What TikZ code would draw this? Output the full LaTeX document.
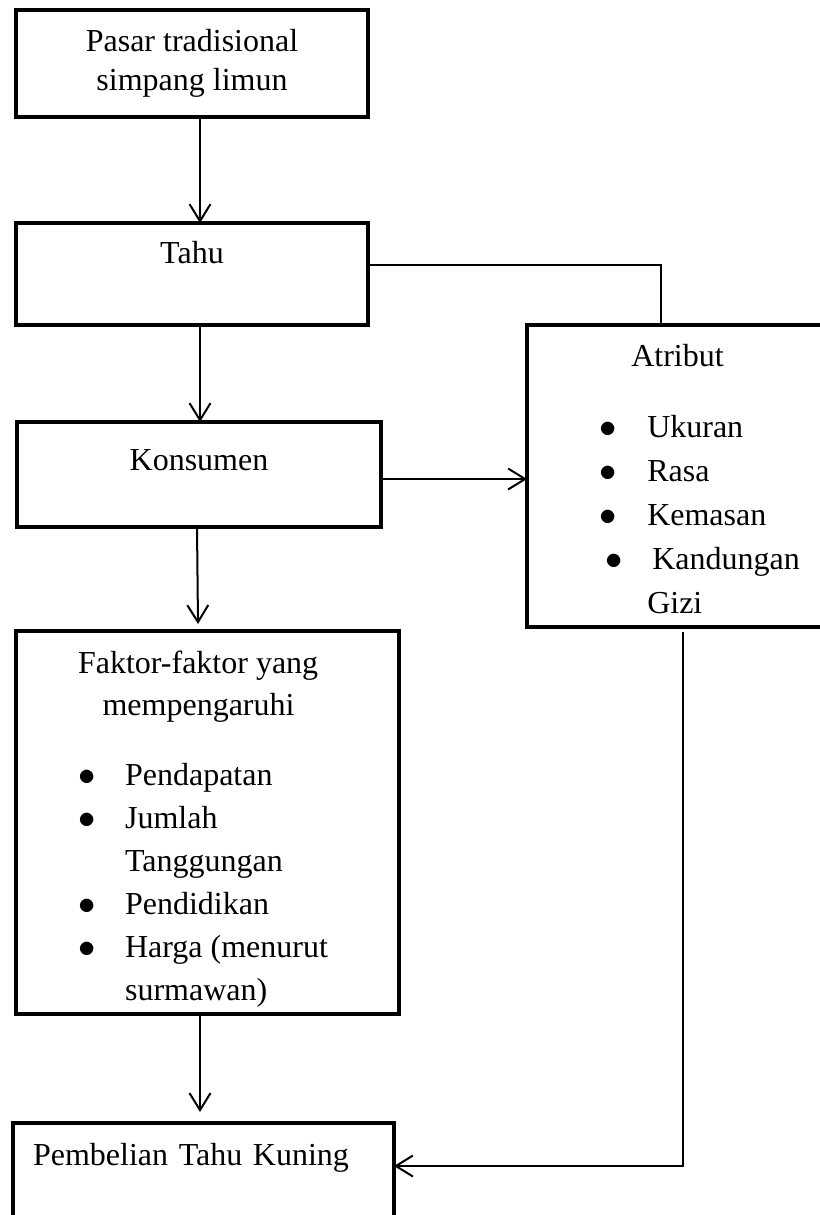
\documentclass[tikz,border=0pt]{standalone}
\usepackage{fontspec}
\setmainfont{Liberation Serif}
\usepackage{tikz}
\usetikzlibrary{arrows.meta}

\newcommand{\itemdot}{$\bullet$}

\begin{document}
\begin{tikzpicture}[
    x=0.5pt, y=-0.5pt,
    box/.style={draw, rectangle, line width=1.6pt, inner sep=0pt, outer sep=0pt, align=center, font=\fontsize{16pt}{21.5pt}\selectfont},
    arrow/.style={-{Straight Barb[length=8.5pt,width=10.5pt]}, line width=1pt},
    link/.style={line width=1pt}
]
    \useasboundingbox (0,0) rectangle (819,1215);
    \coordinate (spine) at (200,0);

    \node (pasar) [box, anchor=north west, minimum width=176pt, minimum height=53.5pt] at (16,10) {Pasar tradisional\\[-2pt]simpang limun};
    \node (tahu) [box, anchor=north west, minimum width=176pt, text height=20pt, text depth=31pt] at (16,223) {Tahu};
    \node (konsumen) [box, anchor=north west, minimum width=182pt, text height=24pt, text depth=28.5pt] at (17,422) {Konsumen};
    \node (faktor) [box, anchor=north west, minimum width=191.5pt, minimum height=191.5pt] at (16,631) {%
        \begin{tabular}{@{}p{23.5pt}@{}l@{\hspace{4.5pt}}}
        \multicolumn{2}{@{}l}{\rule{0pt}{20.45pt}Faktor-faktor yang}\\[-0.5pt]
        \multicolumn{2}{@{}l}{\hspace{12.25pt}mempengaruhi}\\[13.5pt]
        \itemdot & Pendapatan\\
        \itemdot & Jumlah\\
         & Tanggungan\\
        \itemdot & Pendidikan\\
        \itemdot & Harga (menurut\\
         & surmawan)
        \end{tabular}};
    \node (pembelian) [box, anchor=north west, inner xsep=10pt, text width=170.5pt, align=left, text height=21pt, text depth=35pt] at (13,1123) {Pembelian Tahu Kuning};
    \node (atribut) [box, anchor=north west, minimum width=172.5pt, minimum height=151pt] at (527,325) {%
        \begin{tabular}{@{}p{24pt}@{}l@{}}
        \multicolumn{2}{@{}l}{\rule{0pt}{20pt}\hspace{16pt}Atribut}\\[14pt]
        \itemdot & Ukuran\\[0.5pt]
        \itemdot & Rasa\\[0.5pt]
        \itemdot & Kemasan\\[0.5pt]
        \hspace{3pt}\itemdot & \hspace{2.5pt}Kandungan\\[0.5pt]
         & Gizi
        \end{tabular}};

    \coordinate (tout) at ([yshift=4.5pt]tahu.east);
    \coordinate (kout) at ([yshift=-2.25pt]konsumen.east);
    \coordinate (aout) at ([xshift=-8.25pt,yshift=-2.5pt]atribut.south);
    \coordinate (pin) at ([yshift=6.5pt]pembelian.east);

    \draw [arrow] (pasar.south -| spine) -- (tahu.north -| spine);
    \draw [arrow] (tahu.south -| spine) -- (konsumen.north -| spine);
    \draw [arrow] ([xshift=-1pt]konsumen.south) -- ([xshift=-4.75pt,yshift=3.5pt]faktor.north);
    \draw [arrow, shorten >=5.5pt] (faktor.south -| spine) -- (pembelian.north -| spine);
    \draw [link] (tout) -| ([xshift=-19.25pt]atribut.north);
    \draw [arrow] (kout) -- (kout -| atribut.west);
    \draw [arrow] (aout) |- (pin);
\end{tikzpicture}
\end{document}
